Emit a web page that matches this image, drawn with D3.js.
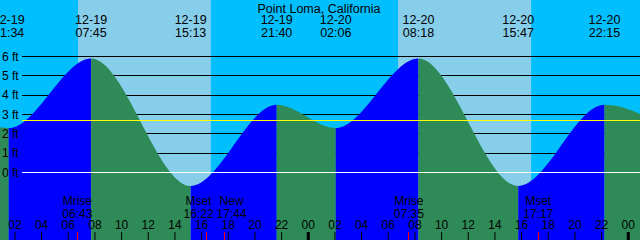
<!DOCTYPE html>
<html>
<head>
<meta charset="utf-8">
<script src="https://cdn.jsdelivr.net/npm/d3@7"></script>
<style>
body { margin: 0; }
svg { display: block; font-family: "Liberation Sans", Arial, sans-serif; }
</style>
</head>
<body>
<script>
var title = "Point Loma, California";

// tide highs and lows (first and last sit just outside the window)
var tideTimes = ["2025-12-18 21:05", "2025-12-19 01:34", "2025-12-19 07:45", "2025-12-19 15:13", "2025-12-19 21:40",
                 "2025-12-20 02:06", "2025-12-20 08:18", "2025-12-20 15:47", "2025-12-20 22:15", "2025-12-21 02:40"];
var tideHeights = [3.5, 2.3, 5.9, -0.7, 3.5, 2.3, 5.9, -0.7, 3.5, 2.4];

var sunrise = ["2025-12-19 06:46", "2025-12-20 06:46"];
var sunset = ["2025-12-19 16:44", "2025-12-20 16:45"];

var moonNames = ["Mrise", "Mset", "New", "Mrise", "Mset"];
var moonTimes = ["2025-12-19 06:43", "2025-12-19 16:22", "2025-12-19 17:44", "2025-12-20 07:35", "2025-12-20 17:17"];

var levels = [0, 1, 2, 3, 4, 5, 6];
var meanLevel = 2.68;
var windowStart = "2025-12-19 00:55",
    windowEnd = "2025-12-21 00:55";

var width = 640, height = 240;
var font = '"Liberation Sans", Arial, sans-serif';

var parse = d3.timeParse("%Y-%m-%d %H:%M");
var fmtDate = d3.timeFormat("%m-%d"),
    fmtTime = d3.timeFormat("%H:%M");

var tides = tideTimes.map(function (t, i) { return { t: parse(t), h: tideHeights[i] }; });

var x = d3.scaleTime().domain([parse(windowStart), parse(windowEnd)]).range([0, width]),
    y = d3.scaleLinear().domain([0, 6]).range([172.5, 56.5]);

function py(v) { return Math.floor(y(v)) + 0.5; }
function px(t) { return Math.floor(x(t)) + 0.5; }

var svg = d3.select("body").append("svg")
    .attr("width", width)
    .attr("height", height);

// sky: night everywhere, day between sunrise and sunset
svg.append("rect").attr("width", width).attr("height", height).attr("fill", "#00bfff");
svg.selectAll(".day")
    .data(sunrise)
    .enter().append("rect")
    .attr("x", function (d) { return x(parse(d)); })
    .attr("width", function (d, i) { return x(parse(sunset[i])) - x(parse(d)); })
    .attr("height", height)
    .attr("fill", "#87ceeb");

// grid lines sit behind the water
svg.selectAll(".grid")
    .data(levels)
    .enter().append("line")
    .attr("x1", 22).attr("x2", width)
    .attr("y1", py).attr("y2", py)
    .attr("stroke", "black");

var area = d3.area()
    .curve(d3.curveMonotoneX)
    .x(function (d) { return x(d.t); })
    .y0(height)
    .y1(function (d) { return y(d.h); });

var defs = svg.append("defs");
tides.slice(0, -1).forEach(function (d, i) {
    var next = tides[i + 1];
    defs.append("clipPath").attr("id", "seg" + i)
        .append("rect")
        .attr("x", x(d.t))
        .attr("width", x(next.t) - x(d.t))
        .attr("height", height);
    svg.append("path")
        .datum(tides)
        .attr("clip-path", "url(#seg" + i + ")")
        .attr("fill", next.h > d.h ? "#0000ff" : "#2e8b57")
        .attr("d", area);
});

svg.append("line")
    .attr("x1", 22).attr("x2", width)
    .attr("y1", py(meanLevel)).attr("y2", py(meanLevel))
    .attr("stroke", "#ffff00");

svg.append("line")
    .attr("x1", 22).attr("x2", width)
    .attr("y1", py(0)).attr("y2", py(0))
    .attr("stroke", "white");

svg.selectAll(".lvl")
    .data(levels)
    .enter().append("text")
    .attr("x", 2)
    .attr("y", function (d) { return y(d); })
    .attr("dy", "0.36em")
    .attr("font-size", 12)
    .text(function (d) { return d + " ft"; });

// title and high/low times
svg.append("text")
    .attr("x", width / 2 - 1).attr("y", 12.5)
    .attr("text-anchor", "middle")
    .attr("font-size", 12.5)
    .text(title);

var shown = tides.filter(function (d) { return d.t >= x.domain()[0] && d.t <= x.domain()[1]; });
var extLabels = svg.selectAll(".ext")
    .data(shown)
    .enter().append("text")
    .attr("text-anchor", "middle")
    .attr("font-size", 12.5);
extLabels.append("tspan")
    .attr("x", function (d) { return x(d.t); })
    .attr("y", 23.5)
    .text(function (d) { return fmtDate(d.t); });
extLabels.append("tspan")
    .attr("x", function (d) { return x(d.t); })
    .attr("y", 36.5)
    .text(function (d) { return fmtTime(d.t); });

// moon events: spread labels that would collide
var moon = moonTimes.map(function (t, i) { return { t: parse(t), name: moonNames[i] }; });
moon.forEach(function (d) { d.lx = x(d.t); });
var minGap = 33;
for (var i = 1; i < moon.length; i++) {
    var gap = moon[i].lx - moon[i - 1].lx;
    if (gap < minGap) {
        moon[i - 1].lx -= (minGap - gap) / 2;
        moon[i].lx += (minGap - gap) / 2;
    }
}

var moonLabels = svg.selectAll(".moon")
    .data(moon)
    .enter().append("text")
    .attr("text-anchor", "middle")
    .attr("font-size", 12);
moonLabels.append("tspan")
    .attr("x", function (d) { return d.lx; })
    .attr("y", 205)
    .text(function (d) { return d.name; });
moonLabels.append("tspan")
    .attr("x", function (d) { return d.lx; })
    .attr("y", 217.5)
    .text(function (d) { return fmtTime(d.t); });

// hour axis along the bottom
var ax = svg.append("g")
    .attr("transform", "translate(0," + height + ")")
    .call(d3.axisTop(x)
        .ticks(d3.timeHour.every(2))
        .tickFormat(d3.timeFormat("%H"))
        .tickSize(8)
        .tickPadding(3));
ax.select(".domain").remove();
ax.attr("font-size", 12).attr("font-family", font).attr("color", "black");
ax.selectAll(".tick line")
    .filter(function (d) { return d.getHours() === 0; })
    .attr("stroke-width", 3);

svg.selectAll(".mtick")
    .data(moon)
    .enter().append("line")
    .attr("x1", function (d) { return px(d.t); })
    .attr("x2", function (d) { return px(d.t); })
    .attr("y1", height - 8).attr("y2", height)
    .attr("stroke", "red");
</script>
</body>
</html>
